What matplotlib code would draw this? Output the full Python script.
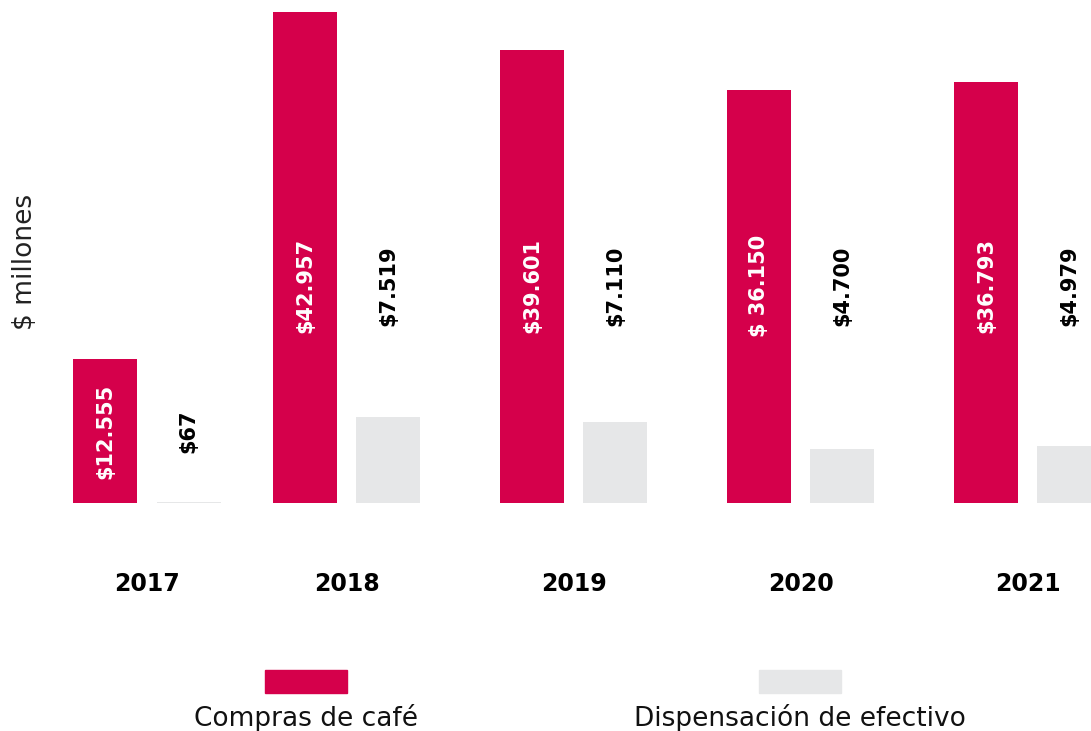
import numpy as np
from matplotlib import pyplot as plt
from matplotlib.patches import Rectangle

# data ($ millones)
years = ['2017', '2018', '2019', '2020', '2021']
compras = [12555, 42957, 39601, 36150, 36793]
dispensacion = [67, 7519, 7110, 4700, 4979]
compras_lbl = ['$12.555', '$42.957', '$39.601', '$ 36.150', '$36.793']
disp_lbl = ['$67', '$7.519', '$7.110', '$4.700', '$4.979']
series_names = ['Compras de café', 'Dispensación de efectivo']

# layout
group_x = np.array([0, 0.88, 1.88, 2.88, 3.88])
bar_w = 0.282
offset = 0.183
red = '#D5004B'
grey = '#E6E7E8'

fig = plt.figure(figsize=(10.91, 7.31), dpi=100)
ax = fig.add_axes([0, (731 - 503) / 731, 1, (503 - 12) / 731])

ax.bar(group_x - offset, compras, bar_w, color=red)
ax.bar(group_x + offset, dispensacion, bar_w, color=grey)

ax.set_xlim(-147 / 227, (1091 - 147) / 227)
ax.set_ylim(0, max(compras))

# value labels: short bars get the label at mid-bar, tall ones at a common height
for i in range(len(years)):
    y = compras[i] / 2 if compras[i] < 20000 else 19000
    ax.text(group_x[i] - offset, y, compras_lbl[i], rotation=90, ha='center', va='center',
            color='white', fontsize=15, fontweight='bold')
    ax.text(group_x[i] + offset, y, disp_lbl[i], rotation=90, ha='center', va='center',
            color='black', fontsize=15, fontweight='bold')

ax.set_xticks(group_x)
ax.set_xticklabels(years, fontsize=17, fontweight='bold')
ax.tick_params(axis='x', length=0, pad=50)
ax.set_yticks([])
for s in ax.spines.values():
    s.set_visible(False)

fig.text(25 / 1091, 1 - 262 / 731, '$ millones', rotation=90, ha='center', va='center',
         fontsize=19, color='#222222')

# legend: swatch above text
for name, col, cx in zip(series_names, [red, grey], [306, 800]):
    fig.add_artist(Rectangle(((cx - 41) / 1091, 1 - 693 / 731), 82 / 1091, 23 / 731,
                             transform=fig.transFigure, color=col))
    fig.text(cx / 1091, 1 - 718 / 731, name, ha='center', va='center', fontsize=19,
             color='#111111')

plt.savefig('out.png', dpi=100)
